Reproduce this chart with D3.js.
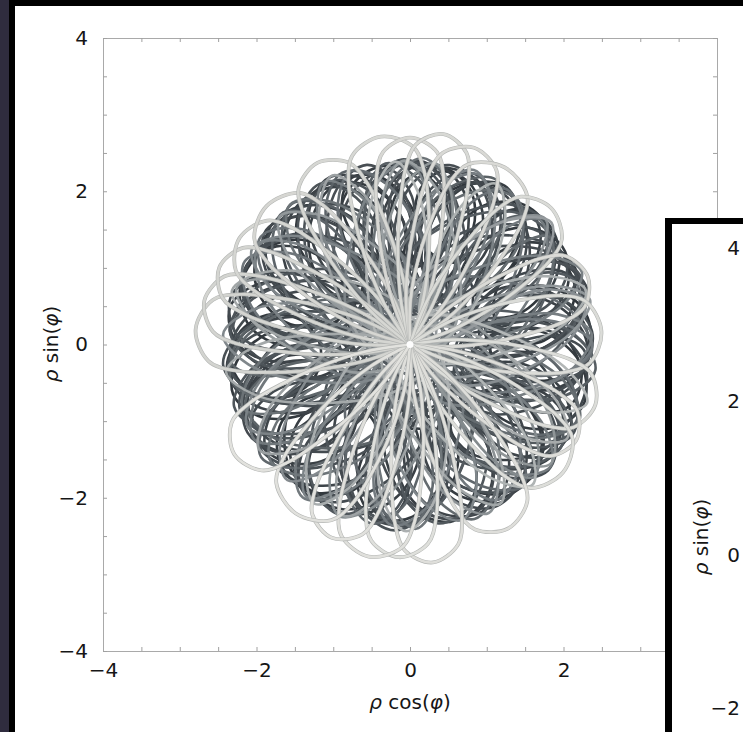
<!DOCTYPE html>
<html><head><meta charset="utf-8">
<script src="https://cdn.jsdelivr.net/npm/d3@7"></script>
<style>
html,body{margin:0;padding:0;background:#2f2c3e;overflow:hidden}
svg{display:block}
</style></head><body>
<svg id="c" width="743" height="732"></svg>
<script>
// ---------- data ----------
const minorTicks = [-4,-3.5,-3,-2.5,-2,-1.5,-1,-0.5,0,0.5,1,1.5,2,2.5,3,3.5,4];
const xTickLabels = [-4,-2,0,2,4];
const yTickLabels = [-4,-2,0,2,4];
const insetTickLabels = [4,2,0,-2];

// loops of the trajectory, set A (time order: dark -> light grey)
const loopAngle = [5,43,80,118,156,193,231,269,307,344, 22,60,97,135,173,211,248,286,324,1,
                   39,77,115,152,190,228,265,303,341,19, 56,94,132,170,207,245,283,320,358,36,
                   73,111,149,187,224,262,300,337,15,53, 90,128,166,204,241,279,317,354,32,70,
                   107,145,183,221,258,296,334,11,49,87, 124,162,200,238,275,313,351,28,66,104,
                   141,179,217,255,292,330,8,45,83,121, 159,196,234,272,309,347];
const loopDist = [1.68,1.62,1.7,1.64,1.66,1.6,1.69,1.63,1.67,1.61, 1.65,1.59,1.66,1.62,1.57,1.64,1.6,1.63,1.58,1.61,
                  1.56,1.6,1.54,1.58,1.55,1.52,1.57,1.53,1.56,1.5, 1.54,1.49,1.52,1.47,1.51,1.46,1.5,1.45,1.48,1.44,
                  1.47,1.42,1.46,1.41,1.44,1.4,1.43,1.38,1.42,1.37, 1.4,1.36,1.39,1.34,1.38,1.33,1.36,1.32,1.35,1.31,
                  1.34,1.3,1.33,1.28,1.32,1.27,1.3,1.26,1.29,1.25, 1.28,1.24,1.27,1.23,1.26,1.22,1.25,1.21,1.24,1.2,
                  1.23,1.19,1.22,1.18,1.21,1.17,1.2,1.16,1.19,1.15, 1.18,1.14,1.17,1.13,1.16,1.12];
const loopRad = [0.7,0.78,0.64,0.74,0.68,0.8,0.66,0.76,0.69,0.79, 0.74,0.82,0.7,0.78,0.84,0.72,0.8,0.74,0.83,0.76,
                 0.84,0.78,0.88,0.8,0.86,0.9,0.82,0.88,0.84,0.92, 0.86,0.94,0.88,0.96,0.9,0.98,0.9,0.99,0.92,1.0,
                 0.94,1.02,0.96,1.04,0.98,1.04,0.97,1.06,1.0,1.07, 1.02,1.08,1.01,1.1,1.04,1.11,1.06,1.12,1.07,1.14,
                 1.08,1.14,1.08,1.16,1.1,1.17,1.12,1.18,1.13,1.19, 1.14,1.2,1.16,1.21,1.16,1.22,1.18,1.23,1.19,1.24,
                 1.2,1.25,1.21,1.26,1.22,1.27,1.23,1.28,1.24,1.29, 1.25,1.3,1.26,1.31,1.27,1.32];
const loopTan = [0.62,0.7,0.55,0.66,0.72,0.58,0.68,0.6,0.74,0.63, 0.69,0.56,0.71,0.64,0.59,0.73,0.66,0.61,0.7,0.57,
                 0.66,0.72,0.6,0.68,0.63,0.7,0.56,0.67,0.73,0.61, 0.65,0.59,0.7,0.63,0.68,0.56,0.66,0.61,0.69,0.58,
                 0.64,0.58,0.67,0.6,0.55,0.65,0.59,0.63,0.57,0.62, 0.6,0.55,0.63,0.58,0.61,0.54,0.59,0.56,0.6,0.53,
                 0.57,0.52,0.58,0.55,0.5,0.56,0.53,0.57,0.51,0.55, 0.52,0.56,0.5,0.54,0.49,0.53,0.51,0.47,0.52,0.5,
                 0.48,0.51,0.46,0.5,0.47,0.49,0.45,0.48,0.46,0.44, 0.47,0.45,0.43,0.46,0.44,0.42];
const loopTilt = [-18,24,-6,32,-28,8,18,-34,12,-10, 28,-2,-24,16,-14,34,-20,6,26,-30,
                  10,-26,2,22,-8,-32,14,-16,30,-4, 20,-22,36,-12,4,-28,24,-6,16,-34,
                  12,-18,28,-2,-24,8,32,-14,18,-26, 6,-20,26,-10,14,-30,22,-4,30,-16,
                  10,-24,18,-8,28,-12,4,-28,20,-2, 14,-18,24,-6,-22,12,26,-10,8,-26,
                  16,-4,22,-14,6,-20,12,-8,18,-12, 8,-14,10,-6,4,-10];

// loops of the trajectory, set B (interleaved in time with set A)
const loopBAngle = [20,61,103,144,185,227,268,309,351,32, 73,115,156,197,239,280,321,3,44,85,
                    127,168,209,251,292,333,15,56,97,139, 180,221,263,304,345,27,68,109,151,192,
                    233,275,316,357,39,80,121,163,204,245, 287,328,9,51,92,133,175,216,257,299,
                    340,21,63,104,145,187,228,269,311,352, 33,75,116,157,199,240,281,323,4,45,
                    87,128,169,211,252,293,335,16,57,99];
const loopBDist = [1.72,1.55,1.68,1.62,1.75,1.5,1.7,1.58,1.66,1.6, 1.74,1.52,1.65,1.57,1.69,1.48,1.63,1.55,1.71,1.5,
                   1.6,1.45,1.67,1.53,1.62,1.44,1.58,1.5,1.64,1.42, 1.56,1.4,1.6,1.47,1.55,1.38,1.52,1.44,1.58,1.36,
                   1.5,1.34,1.54,1.41,1.48,1.32,1.46,1.38,1.52,1.3, 1.44,1.28,1.47,1.35,1.42,1.26,1.4,1.32,1.45,1.24,
                   1.38,1.22,1.4,1.3,1.36,1.2,1.34,1.27,1.37,1.18, 1.32,1.17,1.34,1.24,1.3,1.15,1.28,1.21,1.31,1.14,
                   1.26,1.12,1.28,1.19,1.24,1.1,1.22,1.16,1.25,1.08];
const loopBRad = [0.62,0.82,0.66,0.74,0.59,0.86,0.64,0.78,0.7,0.76, 0.6,0.84,0.72,0.8,0.66,0.9,0.74,0.82,0.64,0.88,
                  0.78,0.94,0.7,0.86,0.76,0.94,0.8,0.88,0.74,0.98, 0.84,1.0,0.78,0.92,0.84,1.02,0.86,0.94,0.8,1.04,
                  0.9,1.06,0.84,0.98,0.9,1.08,0.92,1.0,0.86,1.1, 0.96,1.12,0.92,1.04,0.98,1.14,1.0,1.08,0.94,1.16,
                  1.02,1.18,1.0,1.1,1.04,1.2,1.06,1.14,1.02,1.22, 1.08,1.24,1.06,1.16,1.1,1.26,1.12,1.19,1.08,1.27,
                  1.14,1.28,1.12,1.21,1.16,1.3,1.18,1.24,1.14,1.32];
const loopBTan = [0.5,0.66,0.42,0.72,0.55,0.6,0.46,0.7,0.52,0.64, 0.44,0.68,0.58,0.5,0.74,0.56,0.48,0.66,0.4,0.62,
                  0.7,0.52,0.6,0.45,0.68,0.57,0.5,0.72,0.46,0.6, 0.64,0.48,0.7,0.54,0.44,0.66,0.58,0.5,0.68,0.52,
                  0.46,0.62,0.56,0.4,0.64,0.5,0.6,0.44,0.58,0.54, 0.6,0.44,0.52,0.62,0.48,0.56,0.42,0.58,0.5,0.46,
                  0.54,0.4,0.58,0.48,0.52,0.44,0.56,0.42,0.5,0.46, 0.44,0.52,0.4,0.5,0.46,0.42,0.48,0.4,0.46,0.44,
                  0.42,0.46,0.4,0.44,0.38,0.42,0.4,0.44,0.38,0.4];
const loopBTilt = [40,-12,22,-36,8,30,-24,14,-42,2, 26,-30,-6,38,-18,10,44,-26,16,-8,
                   -40,20,-14,34,-2,-28,12,42,-20,6, 30,-38,18,-10,36,-22,4,-32,24,-14,
                   12,-26,40,-4,-34,18,-16,28,-8,36, -20,8,32,-30,14,-6,26,-36,2,20,
                   -12,34,-24,10,-2,28,-18,6,-28,16, 24,-14,4,-22,18,-8,12,-20,22,-4,
                   -10,14,-16,8,-6,12,-12,2,10,-8];

// late petals through the centre, palest (grouped in near-parallel bundles)
const petalAngle = [176,168,158,148,136,117,98,90,81,72,62,44,21,4,-18,-30,-40,-62,-84,-93,-101,-112,-124,-148];
const petalReach = [2.8,2.74,2.68,2.62,2.6,2.66,2.74,2.7,2.78,2.7,2.62,2.56,2.48,2.5,2.54,2.5,2.6,2.72,2.86,2.78,2.82,2.72,2.66,2.7];
const petalHalfWidth = [0.5,0.46,0.44,0.48,0.52,0.46,0.5,0.44,0.42,0.46,0.54,0.48,0.44,0.5,0.46,0.42,0.52,0.48,0.44,0.46,0.5,0.44,0.54,0.46];
const centrePoint = [[0,0]];

// ---------- drawing ----------
const svg = d3.select("#c");
const FONT = "DejaVu Sans, sans-serif";
const FS = 20;
svg.append("rect").attr("x",9).attr("y",0).attr("width",900).attr("height",900).attr("fill","#000");
svg.append("rect").attr("x",15).attr("y",6).attr("width",900).attr("height",900).attr("fill","#fff");

const x = d3.scaleLinear().domain([-4,4]).range([103,717]);
const y = d3.scaleLinear().domain([-4,4]).range([651,38]);
const fmt = v => xTickLabels.includes(v) ? d3.format("d")(v) : "";
const fmtY = v => yTickLabels.includes(v) ? d3.format("d")(v) : "";

function styleAxis(g){
  g.attr("font-family",FONT).attr("font-size",FS);
  g.select(".domain").attr("stroke","#a9a9a9");
  g.selectAll(".tick line").attr("stroke","#a0a0a0");
  g.selectAll(".tick text").attr("fill","#161616");
}
svg.append("g").attr("transform",`translate(0,${y(-4)})`)
  .call(d3.axisBottom(x).tickValues(minorTicks).tickFormat(fmt).tickSizeInner(-4).tickSizeOuter(0).tickPadding(12)).call(styleAxis);
svg.append("g").attr("transform",`translate(0,${y(4)})`)
  .call(d3.axisTop(x).tickValues(minorTicks).tickFormat("").tickSizeInner(-4).tickSizeOuter(0)).call(styleAxis);
svg.append("g").attr("transform",`translate(${x(-4)},0)`)
  .call(d3.axisLeft(y).tickValues(minorTicks).tickFormat(fmtY).tickSizeInner(-4).tickSizeOuter(0).tickPadding(15)).call(styleAxis);
svg.append("g").attr("transform",`translate(${x(4)},0)`)
  .call(d3.axisRight(y).tickValues(minorTicks).tickFormat("").tickSizeInner(-4).tickSizeOuter(0)).call(styleAxis);

function rhoLabel(sel, fn){
  sel.append("tspan").attr("font-style","italic").text("ρ");
  sel.append("tspan").text(" " + fn + "(");
  sel.append("tspan").attr("font-style","italic").text("φ");
  sel.append("tspan").text(")");
}
svg.append("text").attr("x",410).attr("y",709).attr("text-anchor","middle")
  .attr("font-family",FONT).attr("font-size",FS).attr("fill","#161616").call(rhoLabel,"cos");
svg.append("text").attr("transform","translate(58,344) rotate(-90)").attr("text-anchor","middle")
  .attr("font-family",FONT).attr("font-size",FS).attr("fill","#161616").call(rhoLabel,"sin");

const rad = Math.PI/180;
const closedLine = d3.line().x(d=>x(d[0])).y(d=>y(d[1])).curve(d3.curveCatmullRomClosed.alpha(0.5));
const openLine = d3.line().x(d=>x(d[0])).y(d=>y(d[1])).curve(d3.curveCatmullRom.alpha(0.5));
function rot(pts, A){
  const ca = Math.cos(A*rad), sa = Math.sin(A*rad);
  return pts.map(([u,v]) => [u*ca - v*sa, u*sa + v*ca]);
}
function ellipsePts(A, d, b, t, tilt){
  const pts = [];
  const c = Math.cos(tilt*rad), s = Math.sin(tilt*rad);
  for (let k=0;k<8;k++){
    const th = k*45*rad;
    const u = b*Math.cos(th), v = t*Math.sin(th);
    pts.push([u*c - v*s + d, u*s + v*c]);
  }
  return rot(pts, A);
}
const plot = svg.append("g").attr("fill","none").attr("stroke-linecap","round").attr("stroke-linejoin","round");

// merge both loop sets by time position
const loops = [];
loopAngle.forEach((a,i)=>loops.push({t:i/(loopAngle.length-1), a, d:loopDist[i], b:loopRad[i], w:loopTan[i], k:loopTilt[i]}));
loopBAngle.forEach((a,i)=>loops.push({t:(i+0.5)/loopBAngle.length, a, d:loopBDist[i], b:loopBRad[i], w:loopBTan[i], k:loopBTilt[i]}));
loops.sort((p,q)=>p.t-q.t);
const loopColor = d3.scaleLinear().domain([0,0.55,0.85,1]).range(["#30363b","#4e555a","#7f868a","#b3b7b7"]);
plot.selectAll("path.loop").data(loops).join("path").attr("class","loop")
  .attr("d", L => closedLine(ellipsePts(L.a,L.d,L.b,L.w,L.k)))
  .attr("stroke", L => loopColor(L.t)).attr("stroke-width",2.6);

// petal outline: (fraction of reach, fraction of half width), broad rounded end
const leafU = [0, 0.2, 0.42, 0.62, 0.8, 0.93, 1.0];
const leafV = [0, 0.5, 0.82, 0.97, 1.0, 0.8, 0];
function petalPts(a,R,W){
  const side1 = leafU.map((u,i)=>[u*R, -leafV[i]*W]);
  const side2 = leafU.slice(0,-1).map((u,i)=>[u*R, leafV[i]*W]).reverse();
  return rot(side1.concat(side2), a);
}
const nP = petalAngle.length;
const petalColor = d3.scaleLinear().domain([0,nP-1]).range(["#d3d4d0","#e2e2de"]);
petalAngle.forEach((a,i)=>{
  const dd = openLine(petalPts(a,petalReach[i],petalHalfWidth[i]));
  plot.append("path").attr("d",dd).attr("stroke","#b5b7b5").attr("stroke-width",3.8);
  plot.append("path").attr("d",dd).attr("stroke",petalColor(i)).attr("stroke-width",2.6);
});
plot.selectAll("circle").data(centrePoint).join("circle")
  .attr("cx",d=>x(d[0])).attr("cy",d=>y(d[1])).attr("r",3.5).attr("fill","#fdfdfd").attr("stroke","none");

// ---------- second (overlapping) panel ----------
svg.append("rect").attr("x",665).attr("y",218).attr("width",300).attr("height",600).attr("fill","#000");
svg.append("rect").attr("x",672).attr("y",224).attr("width",300).attr("height",600).attr("fill","#fff");
const y2 = d3.scaleLinear().domain([-4,4]).range([862,248]);
svg.append("g").attr("transform","translate(755,0)")
  .call(d3.axisLeft(y2).tickValues(insetTickLabels).tickFormat(d3.format("d")).tickSizeInner(-4).tickSizeOuter(0).tickPadding(15))
  .call(styleAxis);
svg.append("text").attr("transform","translate(708,537) rotate(-90)").attr("text-anchor","middle")
  .attr("font-family",FONT).attr("font-size",FS).attr("fill","#161616").call(rhoLabel,"sin");
</script>
</body></html>
